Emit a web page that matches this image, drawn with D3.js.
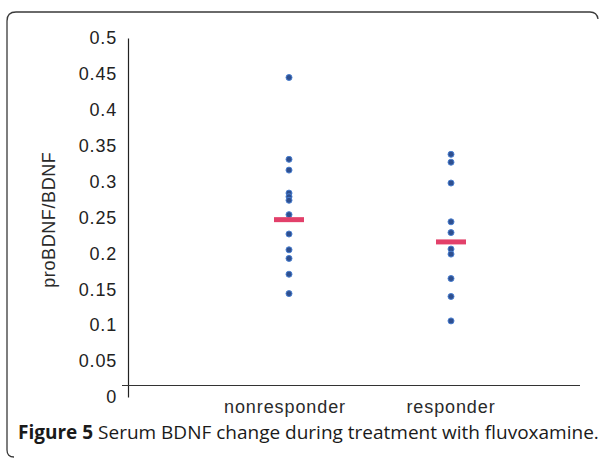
<!DOCTYPE html>
<html><head><meta charset="utf-8">
<script src="https://cdn.jsdelivr.net/npm/d3@7"></script>
<style>body{margin:0;background:#fff}svg{display:block}</style>
</head><body>
<svg id="chart" width="600" height="459"></svg>
<script>
const categories = ["nonresponder", "responder"];
const nonresponderValues = [0.445, 0.331, 0.316, 0.284, 0.279, 0.274, 0.254, 0.227, 0.205, 0.193, 0.171, 0.144];
const responderValues = [0.338, 0.327, 0.298, 0.244, 0.229, 0.206, 0.199, 0.165, 0.140, 0.106];
const meanValues = [0.247, 0.216];
const yTickValues = [0, 0.05, 0.1, 0.15, 0.2, 0.25, 0.3, 0.35, 0.4, 0.45, 0.5];
const yTickLabels = ["0", "0.05", "0.1", "0.15", "0.2", "0.25", "0.3", "0.35", "0.4", "0.45", "0.5"];
const yTitle = "proBDNF/BDNF";
const captionBold = "Figure 5";
const captionText = " Serum BDNF change during treatment with fluvoxamine.";
const baselineValue = 0.016;

const svg = d3.select("#chart");
const y = d3.scaleLinear().domain([0, 0.5]).range([397, 38]);
const x = d3.scalePoint().domain(categories).range([289, 451]);
const axisX = 128;
const labelFont = "Liberation Sans, Arial, sans-serif";

// frame
svg.append("path")
  .attr("d", "M14,457 Q7,457 7,450 L7,21 Q7,12 16,12 L590,12 Q597,12 598,19")
  .attr("fill", "none").attr("stroke", "#3a3a3a").attr("stroke-width", 1.3);

// y axis
const yAxis = d3.axisLeft(y).tickValues(yTickValues)
  .tickFormat((d, i) => yTickLabels[i]).tickSize(0).tickPadding(11);
const gy = svg.append("g").attr("transform", `translate(${axisX},0)`).call(yAxis);
gy.select(".domain").attr("stroke", "#222").attr("stroke-width", 1.2);
gy.selectAll("text").attr("font-family", labelFont)
  .attr("font-size", 18).attr("letter-spacing", 0.8).attr("fill", "#222");

// baseline (category axis)
svg.append("line")
  .attr("x1", axisX - 6).attr("x2", 580)
  .attr("y1", y(baselineValue)).attr("y2", y(baselineValue))
  .attr("stroke", "#333").attr("stroke-width", 1.2);

// category labels
svg.selectAll("text.cat").data(categories).enter().append("text")
  .attr("class", "cat")
  .attr("x", (d, i) => x(d) - (i === 0 ? 4 : 0)).attr("y", 413)
  .attr("text-anchor", "middle")
  .attr("font-family", labelFont)
  .attr("font-size", 18).attr("letter-spacing", 0.9).attr("fill", "#2a2a2a")
  .text(d => d);

// y title
svg.append("text")
  .attr("transform", `translate(55,${y(0.247)}) rotate(-90)`)
  .attr("text-anchor", "middle")
  .attr("font-family", labelFont)
  .attr("font-size", 18).attr("letter-spacing", 0.6).attr("fill", "#2a2a2a")
  .text(yTitle);

// points
const series = [nonresponderValues, responderValues];
series.forEach((vals, i) => {
  svg.append("g").selectAll("circle").data(vals).enter().append("circle")
    .attr("cx", x(categories[i])).attr("cy", d => y(d))
    .attr("r", 3).attr("fill", "#2e4f8f").attr("stroke", "#4a7fd0").attr("stroke-width", 1);
});

// mean bars
svg.append("g").selectAll("rect").data(meanValues).enter().append("rect")
  .attr("x", (d, i) => x(categories[i]) - 15)
  .attr("y", d => y(d) - 2.5)
  .attr("width", 30).attr("height", 5)
  .attr("fill", "#e2406a");

// caption
const cap = svg.append("text").attr("x", 18).attr("y", 439)
  .attr("font-family", "Open Sans, Noto Sans, sans-serif")
  .attr("font-size", 19).attr("fill", "#1a1a1a");
cap.append("tspan").attr("font-weight", "bold").text(captionBold);
cap.append("tspan").text(captionText);
</script>
</body></html>
